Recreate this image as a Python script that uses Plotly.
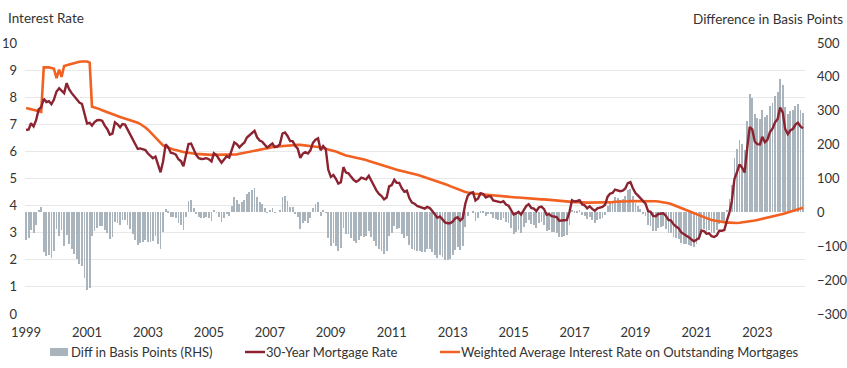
import plotly.graph_objects as go

# ---------------- data (monthly, Jan 1999 - Jul 2024) ----------------
start_year = 1999
mortgage_rate = [
    # 1999
    6.79, 6.81, 7.04, 6.92, 7.15, 7.55, 7.63, 7.94, 7.82, 7.85, 7.74, 7.91,
    # 2000
    8.21, 8.33, 8.24, 8.15, 8.52, 8.29, 8.15, 8.03, 7.91, 7.80, 7.75, 7.38,
    # 2001
    7.03, 7.05, 6.95, 7.08, 7.15, 7.16, 7.13, 6.95, 6.82, 6.62, 6.66, 7.07,
    # 2002
    7.00, 6.89, 7.01, 6.99, 6.81, 6.65, 6.49, 6.29, 6.09, 6.11, 6.07, 6.05,
    # 2003
    5.92, 5.84, 5.75, 5.81, 5.48, 5.23, 5.63, 6.26, 6.15, 5.95, 5.93, 5.88,
    # 2004
    5.71, 5.64, 5.45, 5.83, 6.27, 6.29, 6.06, 5.87, 5.75, 5.72, 5.73, 5.75,
    # 2005
    5.71, 5.63, 5.93, 5.86, 5.72, 5.58, 5.70, 5.82, 5.77, 6.07, 6.33, 6.27,
    # 2006
    6.15, 6.25, 6.32, 6.51, 6.60, 6.68, 6.76, 6.52, 6.40, 6.36, 6.24, 6.14,
    # 2007
    6.22, 6.29, 6.16, 6.18, 6.26, 6.66, 6.70, 6.57, 6.38, 6.38, 6.21, 6.10,
    # 2008
    5.76, 5.92, 5.97, 5.92, 6.04, 6.32, 6.43, 6.48, 6.04, 6.20, 6.09, 5.33,
    # 2009
    5.06, 5.13, 5.00, 4.81, 4.86, 5.42, 5.22, 5.19, 5.06, 4.95, 4.88, 4.93,
    # 2010
    5.03, 4.99, 4.97, 5.10, 4.89, 4.74, 4.56, 4.43, 4.35, 4.23, 4.30, 4.71,
    # 2011
    4.76, 4.95, 4.84, 4.84, 4.64, 4.51, 4.55, 4.27, 4.11, 4.07, 3.99, 3.96,
    # 2012
    3.92, 3.89, 3.95, 3.91, 3.80, 3.68, 3.55, 3.60, 3.50, 3.38, 3.35, 3.35,
    # 2013
    3.41, 3.53, 3.57, 3.45, 3.54, 4.07, 4.37, 4.46, 4.49, 4.19, 4.26, 4.46,
    # 2014
    4.43, 4.30, 4.34, 4.34, 4.19, 4.16, 4.13, 4.12, 4.16, 4.04, 4.00, 3.86,
    # 2015
    3.67, 3.71, 3.77, 3.67, 3.84, 3.98, 4.05, 3.91, 3.89, 3.80, 3.94, 3.96,
    # 2016
    3.87, 3.66, 3.69, 3.61, 3.60, 3.57, 3.44, 3.44, 3.46, 3.47, 3.77, 4.20,
    # 2017
    4.15, 4.17, 4.20, 4.05, 4.01, 3.90, 3.97, 3.88, 3.81, 3.90, 3.92, 3.95,
    # 2018
    4.03, 4.33, 4.44, 4.47, 4.59, 4.57, 4.53, 4.55, 4.63, 4.83, 4.87, 4.64,
    # 2019
    4.46, 4.37, 4.27, 4.14, 4.07, 3.80, 3.77, 3.62, 3.61, 3.69, 3.70, 3.72,
    # 2020
    3.62, 3.47, 3.45, 3.31, 3.23, 3.16, 3.02, 2.94, 2.89, 2.83, 2.77, 2.68,
    # 2021
    2.74, 2.81, 3.08, 3.06, 2.96, 2.98, 2.87, 2.84, 2.90, 3.07, 3.07, 3.10,
    # 2022
    3.45, 3.76, 4.17, 4.98, 5.23, 5.52, 5.41, 5.22, 6.11, 6.90, 6.81, 6.36,
    # 2023
    6.27, 6.26, 6.54, 6.34, 6.43, 6.71, 6.84, 7.07, 7.20, 7.62, 7.44, 6.82,
    # 2024
    6.64, 6.78, 6.82, 6.99, 7.06, 6.92, 6.85,
]

weighted_avg_rate = [
    # 1999
    7.60, 7.58, 7.56, 7.54, 7.52, 7.49, 7.46, 9.10, 9.11, 9.10, 9.08, 9.05,
    # 2000
    8.70, 9.02, 8.75, 9.15, 9.18, 9.21, 9.24, 9.27, 9.29, 9.31, 9.32, 9.32,
    # 2001
    9.32, 9.28, 7.65, 7.62, 7.60, 7.56, 7.52, 7.48, 7.44, 7.41, 7.38, 7.34,
    # 2002
    7.30, 7.27, 7.24, 7.21, 7.18, 7.15, 7.12, 7.10, 7.06, 7.01, 6.95, 6.88,
    # 2003
    6.80, 6.70, 6.60, 6.50, 6.40, 6.30, 6.22, 6.17, 6.13, 6.10, 6.07, 6.05,
    # 2004
    6.02, 6.00, 5.98, 5.96, 5.94, 5.93, 5.92, 5.91, 5.90, 5.89, 5.89, 5.88,
    # 2005
    5.88, 5.87, 5.87, 5.87, 5.87, 5.87, 5.87, 5.87, 5.87, 5.87, 5.88, 5.89,
    # 2006
    5.91, 5.93, 5.95, 5.97, 5.99, 6.01, 6.04, 6.06, 6.08, 6.10, 6.12, 6.13,
    # 2007
    6.15, 6.16, 6.17, 6.18, 6.19, 6.20, 6.21, 6.22, 6.23, 6.23, 6.24, 6.24,
    # 2008
    6.24, 6.23, 6.23, 6.22, 6.21, 6.19, 6.18, 6.16, 6.14, 6.12, 6.10, 6.08,
    # 2009
    6.06, 6.03, 6.00, 5.96, 5.92, 5.88, 5.85, 5.83, 5.81, 5.79, 5.77, 5.75,
    # 2010
    5.74, 5.71, 5.68, 5.65, 5.62, 5.59, 5.56, 5.52, 5.49, 5.46, 5.43, 5.40,
    # 2011
    5.37, 5.34, 5.32, 5.30, 5.28, 5.26, 5.24, 5.22, 5.20, 5.17, 5.14, 5.11,
    # 2012
    5.08, 5.05, 5.02, 4.99, 4.96, 4.93, 4.90, 4.87, 4.83, 4.80, 4.76, 4.72,
    # 2013
    4.68, 4.64, 4.60, 4.56, 4.53, 4.50, 4.48, 4.46, 4.45, 4.44, 4.43, 4.42,
    # 2014
    4.41, 4.40, 4.39, 4.38, 4.37, 4.36, 4.35, 4.35, 4.34, 4.33, 4.32, 4.31,
    # 2015
    4.31, 4.30, 4.30, 4.29, 4.28, 4.28, 4.27, 4.26, 4.26, 4.25, 4.24, 4.23,
    # 2016
    4.23, 4.22, 4.21, 4.20, 4.19, 4.18, 4.17, 4.16, 4.15, 4.15, 4.14, 4.14,
    # 2017
    4.13, 4.13, 4.12, 4.12, 4.12, 4.11, 4.11, 4.11, 4.11, 4.12, 4.12, 4.12,
    # 2018
    4.12, 4.13, 4.13, 4.13, 4.14, 4.14, 4.15, 4.15, 4.16, 4.16, 4.17, 4.17,
    # 2019
    4.17, 4.18, 4.18, 4.18, 4.18, 4.18, 4.17, 4.17, 4.16, 4.15, 4.14, 4.13,
    # 2020
    4.11, 4.09, 4.06, 4.03, 3.99, 3.95, 3.91, 3.87, 3.83, 3.79, 3.75, 3.71,
    # 2021
    3.67, 3.63, 3.60, 3.56, 3.53, 3.50, 3.47, 3.45, 3.43, 3.41, 3.39, 3.38,
    # 2022
    3.37, 3.37, 3.36, 3.36, 3.36, 3.37, 3.38, 3.39, 3.40, 3.42, 3.43, 3.45,
    # 2023
    3.47, 3.49, 3.51, 3.53, 3.55, 3.57, 3.60, 3.62, 3.64, 3.67, 3.69, 3.72,
    # 2024
    3.75, 3.78, 3.81, 3.84, 3.86, 3.89, 3.92,
]

# monthly dates
dates = [f"{start_year + i // 12}-{i % 12 + 1:02d}-01" for i in range(len(mortgage_rate))]

# difference in basis points (mortgage rate minus weighted average)
diff_bps = [round((m - w) * 100, 1) for m, w in zip(mortgage_rate, weighted_avg_rate)]

x_tick_years = [str(y) for y in range(1999, 2024, 2)]
left_ticks = list(range(0, 11))
right_ticks = list(range(-300, 501, 100))

series_names = [
    "Diff in Basis Points (RHS)",
    "30-Year Mortgage Rate",
    "Weighted Average Interest Rate on Outstanding Mortgages",
]

# ---------------- styling ----------------
FONT = "Lato"
TXT = "#333333"
BAR_C = "#aab4bc"
RED_C = "#8c2331"
ORG_C = "#f26122"
GRID_C = "#e8e8e8"

fig = go.Figure()

fig.add_trace(go.Bar(
    x=dates, y=diff_bps, name=series_names[0], yaxis="y",
    marker=dict(color=BAR_C, line=dict(width=0)),
    width=10 * 24 * 3600 * 1000, showlegend=False,
))
fig.add_trace(go.Scatter(
    x=dates, y=weighted_avg_rate, name=series_names[2], yaxis="y2",
    mode="lines", line=dict(color=ORG_C, width=2.6), showlegend=False,
))
fig.add_trace(go.Scatter(
    x=dates, y=mortgage_rate, name=series_names[1], yaxis="y2",
    mode="lines", line=dict(color=RED_C, width=2.4), showlegend=False,
))

fig.update_layout(
    width=847, height=368,
    margin=dict(l=25, r=42, t=43, b=54, autoexpand=False),
    paper_bgcolor="white", plot_bgcolor="white",
    font=dict(family=FONT, size=13, color=TXT),
    bargap=0,
    xaxis=dict(
        type="date",
        range=["1998-12-19", "2024-07-25"],
        tickvals=[f"{y}-01-01" for y in x_tick_years],
        ticktext=x_tick_years,
        showgrid=False, zeroline=False, showline=False,
        ticks="", tickfont=dict(size=13, color=TXT),
        ticklabelstandoff=9, automargin=False,
    ),
    yaxis=dict(
        side="right", range=[-300, 500], tickvals=right_ticks,
        showgrid=False, zeroline=False, showline=False,
        ticks="", tickfont=dict(size=13, color=TXT),
        ticklabelstandoff=11, automargin=False,
    ),
    yaxis2=dict(
        side="left", overlaying="y", range=[0, 10], tickvals=left_ticks,
        showgrid=True, gridcolor=GRID_C, gridwidth=1,
        zeroline=False, showline=False,
        ticks="", tickfont=dict(size=13, color=TXT),
        ticklabelstandoff=7, automargin=False,
    ),
)

# axis titles
fig.add_annotation(text="Interest Rate", xref="paper", yref="paper",
                   x=(6 - 25) / 780, y=(314 - 18) / 271, xanchor="left", yanchor="middle",
                   showarrow=False, font=dict(size=13.5, color=TXT))
fig.add_annotation(text="Difference in Basis Points", xref="paper", yref="paper",
                   x=(845 - 25) / 780, y=(314 - 19) / 271, xanchor="right", yanchor="middle",
                   showarrow=False, font=dict(size=13.5, color=TXT))

# legend (drawn manually to match the reference layout)
def px_x(p):
    return (p - 25) / 780

def px_y(p):
    return (314 - p) / 271

ly = 352
fig.add_shape(type="rect", xref="paper", yref="paper",
              x0=px_x(50), x1=px_x(68), y0=px_y(356), y1=px_y(348),
              fillcolor=BAR_C, line=dict(width=0))
fig.add_annotation(text=series_names[0], xref="paper", yref="paper",
                   x=px_x(69), y=px_y(ly), xanchor="left", yanchor="middle",
                   showarrow=False, font=dict(size=13, color=TXT))
fig.add_shape(type="line", xref="paper", yref="paper",
              x0=px_x(245), x1=px_x(265), y0=px_y(ly), y1=px_y(ly),
              line=dict(color=RED_C, width=2.5))
fig.add_annotation(text=series_names[1], xref="paper", yref="paper",
                   x=px_x(264), y=px_y(ly), xanchor="left", yanchor="middle",
                   showarrow=False, font=dict(size=13, color=TXT))
fig.add_shape(type="line", xref="paper", yref="paper",
              x0=px_x(440), x1=px_x(460), y0=px_y(ly), y1=px_y(ly),
              line=dict(color=ORG_C, width=2.5))
fig.add_annotation(text=series_names[2], xref="paper", yref="paper",
                   x=px_x(459), y=px_y(ly), xanchor="left", yanchor="middle",
                   showarrow=False, font=dict(size=13, color=TXT))

fig.write_html(
    "out.html",
    config={"displayModeBar": False},
    post_script="document.body.style.margin='0';document.body.style.padding='0';",
)
